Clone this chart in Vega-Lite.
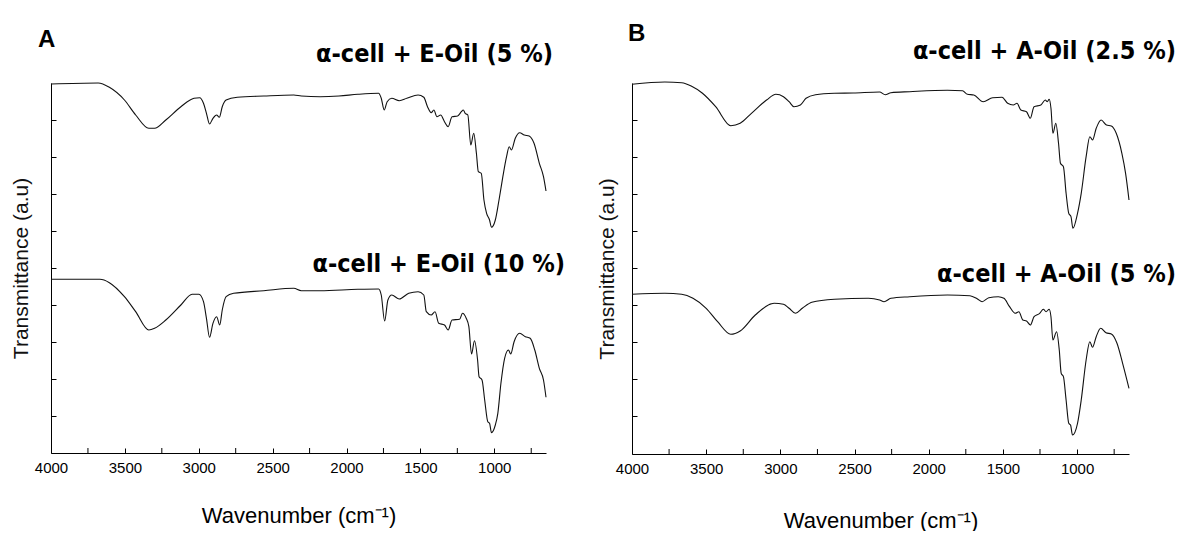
{
  "$schema": "https://vega.github.io/schema/vega-lite/v6.json",
  "padding": {"left": 10, "top": 22, "right": 0, "bottom": 0},
  "background": "white",
  "bounds": "flush",
  "spacing": 86,
  "config": {
    "view": {"stroke": null},
    "font": "Liberation Sans",
    "axis": {"grid": false, "domainColor": "#000", "tickColor": "#000", "domainWidth": 1, "tickWidth": 1}
  },
  "datasets": {
    "A": [
      {"s":"E5","w":4000,"v":369},{"s":"E5","w":3681,"v":370},{"s":"E5","w":3605,"v":365.7},{"s":"E5","w":3503,"v":353},{"s":"E5","w":3427,"v":338},{"s":"E5","w":3338,"v":324.7},{"s":"E5","w":3299,"v":324.7},{"s":"E5","w":3223,"v":333},{"s":"E5","w":3121,"v":346.3},{"s":"E5","w":3032,"v":354.7},{"s":"E5","w":2994,"v":355.3},{"s":"E5","w":2968,"v":349.7},{"s":"E5","w":2948,"v":339.7},{"s":"E5","w":2927,"v":329},{"s":"E5","w":2904,"v":334.7},{"s":"E5","w":2879,"v":338},{"s":"E5","w":2861,"v":335.7},{"s":"E5","w":2841,"v":346.3},{"s":"E5","w":2815,"v":353},{"s":"E5","w":2739,"v":355.7},{"s":"E5","w":2560,"v":357},{"s":"E5","w":2357,"v":358},{"s":"E5","w":2306,"v":357},{"s":"E5","w":2178,"v":356.3},{"s":"E5","w":2051,"v":357},{"s":"E5","w":1923,"v":358.7},{"s":"E5","w":1783,"v":359.7},{"s":"E5","w":1765,"v":354.7},{"s":"E5","w":1745,"v":343},{"s":"E5","w":1725,"v":351.3},{"s":"E5","w":1694,"v":354.7},{"s":"E5","w":1643,"v":352.3},{"s":"E5","w":1592,"v":354.7},{"s":"E5","w":1516,"v":358},{"s":"E5","w":1477,"v":355.7},{"s":"E5","w":1452,"v":346.3},{"s":"E5","w":1427,"v":340.3},{"s":"E5","w":1409,"v":343},{"s":"E5","w":1388,"v":336.3},{"s":"E5","w":1363,"v":338},{"s":"E5","w":1337,"v":331.3},{"s":"E5","w":1312,"v":326.3},{"s":"E5","w":1286,"v":336.3},{"s":"E5","w":1248,"v":337},{"s":"E5","w":1223,"v":341.3},{"s":"E5","w":1210,"v":343},{"s":"E5","w":1197,"v":339.7},{"s":"E5","w":1179,"v":338},{"s":"E5","w":1159,"v":308},{"s":"E5","w":1139,"v":319.7},{"s":"E5","w":1121,"v":299.7},{"s":"E5","w":1108,"v":281.3},{"s":"E5","w":1088,"v":279.7},{"s":"E5","w":1070,"v":253},{"s":"E5","w":1052,"v":239.7},{"s":"E5","w":1032,"v":233},{"s":"E5","w":1019,"v":225.7},{"s":"E5","w":993,"v":233},{"s":"E5","w":968,"v":253},{"s":"E5","w":942,"v":276.3},{"s":"E5","w":917,"v":296.3},{"s":"E5","w":899,"v":306.3},{"s":"E5","w":884,"v":303},{"s":"E5","w":858,"v":314.7},{"s":"E5","w":828,"v":320.3},{"s":"E5","w":797,"v":318},{"s":"E5","w":764,"v":317},{"s":"E5","w":731,"v":309.7},{"s":"E5","w":695,"v":289.7},{"s":"E5","w":667,"v":276.3},{"s":"E5","w":650,"v":262},
      {"s":"E10","w":4000,"v":173.7},{"s":"E10","w":3669,"v":173.7},{"s":"E10","w":3605,"v":170.3},{"s":"E10","w":3503,"v":156.3},{"s":"E10","w":3427,"v":141.3},{"s":"E10","w":3338,"v":123},{"s":"E10","w":3299,"v":124.7},{"s":"E10","w":3223,"v":133},{"s":"E10","w":3121,"v":148},{"s":"E10","w":3045,"v":158.7},{"s":"E10","w":2999,"v":158.7},{"s":"E10","w":2968,"v":151.3},{"s":"E10","w":2948,"v":134.7},{"s":"E10","w":2927,"v":115.7},{"s":"E10","w":2904,"v":129.7},{"s":"E10","w":2879,"v":136.3},{"s":"E10","w":2858,"v":128},{"s":"E10","w":2841,"v":143},{"s":"E10","w":2815,"v":156.3},{"s":"E10","w":2764,"v":159.7},{"s":"E10","w":2560,"v":162.3},{"s":"E10","w":2357,"v":164.7},{"s":"E10","w":2306,"v":162.3},{"s":"E10","w":2178,"v":162.3},{"s":"E10","w":1923,"v":163.7},{"s":"E10","w":1783,"v":164},{"s":"E10","w":1765,"v":158},{"s":"E10","w":1742,"v":132},{"s":"E10","w":1720,"v":153},{"s":"E10","w":1694,"v":158},{"s":"E10","w":1643,"v":154},{"s":"E10","w":1579,"v":159.7},{"s":"E10","w":1516,"v":161.3},{"s":"E10","w":1477,"v":158},{"s":"E10","w":1460,"v":141.3},{"s":"E10","w":1427,"v":138},{"s":"E10","w":1401,"v":141.3},{"s":"E10","w":1376,"v":129.7},{"s":"E10","w":1337,"v":128},{"s":"E10","w":1312,"v":123},{"s":"E10","w":1286,"v":133},{"s":"E10","w":1235,"v":133.7},{"s":"E10","w":1215,"v":139.7},{"s":"E10","w":1190,"v":134.7},{"s":"E10","w":1172,"v":126.3},{"s":"E10","w":1154,"v":99},{"s":"E10","w":1134,"v":112.3},{"s":"E10","w":1113,"v":93},{"s":"E10","w":1103,"v":76.3},{"s":"E10","w":1083,"v":73},{"s":"E10","w":1065,"v":53},{"s":"E10","w":1044,"v":31.3},{"s":"E10","w":1032,"v":29.7},{"s":"E10","w":1019,"v":20.3},{"s":"E10","w":993,"v":28},{"s":"E10","w":976,"v":39.7},{"s":"E10","w":955,"v":69.7},{"s":"E10","w":930,"v":94.7},{"s":"E10","w":904,"v":103},{"s":"E10","w":889,"v":99},{"s":"E10","w":866,"v":111.3},{"s":"E10","w":828,"v":119.7},{"s":"E10","w":790,"v":116.3},{"s":"E10","w":757,"v":114.7},{"s":"E10","w":726,"v":103},{"s":"E10","w":695,"v":84.7},{"s":"E10","w":667,"v":73},{"s":"E10","w":650,"v":55.7}
    ],
    "B": [
      {"s":"A25","w":4000,"v":369.7},{"s":"A25","w":3779,"v":372},{"s":"A25","w":3665,"v":371.3},{"s":"A25","w":3601,"v":368},{"s":"A25","w":3525,"v":360.7},{"s":"A25","w":3436,"v":347.3},{"s":"A25","w":3334,"v":328.3},{"s":"A25","w":3271,"v":330.7},{"s":"A25","w":3195,"v":340.7},{"s":"A25","w":3093,"v":354},{"s":"A25","w":3030,"v":359.7},{"s":"A25","w":2979,"v":357.3},{"s":"A25","w":2941,"v":352.3},{"s":"A25","w":2908,"v":347.3},{"s":"A25","w":2865,"v":349},{"s":"A25","w":2827,"v":355.7},{"s":"A25","w":2763,"v":359.3},{"s":"A25","w":2636,"v":360.7},{"s":"A25","w":2509,"v":361},{"s":"A25","w":2331,"v":362},{"s":"A25","w":2293,"v":359.3},{"s":"A25","w":2255,"v":361.3},{"s":"A25","w":2128,"v":362.3},{"s":"A25","w":1874,"v":363.7},{"s":"A25","w":1772,"v":363.3},{"s":"A25","w":1739,"v":359.7},{"s":"A25","w":1696,"v":359},{"s":"A25","w":1633,"v":352.3},{"s":"A25","w":1569,"v":356.3},{"s":"A25","w":1506,"v":356.7},{"s":"A25","w":1468,"v":350.7},{"s":"A25","w":1430,"v":349},{"s":"A25","w":1405,"v":350.7},{"s":"A25","w":1379,"v":344},{"s":"A25","w":1341,"v":342.3},{"s":"A25","w":1315,"v":335.7},{"s":"A25","w":1290,"v":347.3},{"s":"A25","w":1244,"v":349},{"s":"A25","w":1214,"v":354},{"s":"A25","w":1201,"v":352.3},{"s":"A25","w":1188,"v":354.7},{"s":"A25","w":1176,"v":345.7},{"s":"A25","w":1163,"v":320.7},{"s":"A25","w":1143,"v":330.7},{"s":"A25","w":1125,"v":310.7},{"s":"A25","w":1112,"v":290.7},{"s":"A25","w":1092,"v":287.3},{"s":"A25","w":1074,"v":260.7},{"s":"A25","w":1056,"v":240.7},{"s":"A25","w":1041,"v":237.3},{"s":"A25","w":1028,"v":225.7},{"s":"A25","w":997,"v":240.7},{"s":"A25","w":972,"v":260.7},{"s":"A25","w":939,"v":297.3},{"s":"A25","w":914,"v":317.3},{"s":"A25","w":896,"v":314},{"s":"A25","w":871,"v":325.7},{"s":"A25","w":838,"v":334},{"s":"A25","w":802,"v":329},{"s":"A25","w":769,"v":328},{"s":"A25","w":736,"v":320.7},{"s":"A25","w":698,"v":300.7},{"s":"A25","w":673,"v":280.7},{"s":"A25","w":650,"v":254},
      {"s":"A5","w":4000,"v":159.7},{"s":"A5","w":3779,"v":160.7},{"s":"A5","w":3665,"v":159.7},{"s":"A5","w":3589,"v":155.7},{"s":"A5","w":3500,"v":145.7},{"s":"A5","w":3423,"v":132.3},{"s":"A5","w":3334,"v":119.7},{"s":"A5","w":3271,"v":123},{"s":"A5","w":3169,"v":139},{"s":"A5","w":3042,"v":150.7},{"s":"A5","w":2979,"v":149.7},{"s":"A5","w":2941,"v":145.7},{"s":"A5","w":2898,"v":140.7},{"s":"A5","w":2852,"v":145.7},{"s":"A5","w":2788,"v":151.7},{"s":"A5","w":2636,"v":154.7},{"s":"A5","w":2407,"v":155.7},{"s":"A5","w":2331,"v":154},{"s":"A5","w":2301,"v":152.3},{"s":"A5","w":2255,"v":155.7},{"s":"A5","w":2128,"v":157.3},{"s":"A5","w":1874,"v":159},{"s":"A5","w":1722,"v":158.3},{"s":"A5","w":1671,"v":155},{"s":"A5","w":1640,"v":152.3},{"s":"A5","w":1595,"v":156.3},{"s":"A5","w":1531,"v":157.3},{"s":"A5","w":1493,"v":155.7},{"s":"A5","w":1455,"v":147.3},{"s":"A5","w":1417,"v":140.7},{"s":"A5","w":1392,"v":142.3},{"s":"A5","w":1366,"v":134},{"s":"A5","w":1341,"v":133},{"s":"A5","w":1315,"v":129},{"s":"A5","w":1290,"v":137.3},{"s":"A5","w":1252,"v":140.7},{"s":"A5","w":1227,"v":144.7},{"s":"A5","w":1209,"v":142.3},{"s":"A5","w":1188,"v":144.7},{"s":"A5","w":1176,"v":137.3},{"s":"A5","w":1163,"v":114},{"s":"A5","w":1138,"v":122.3},{"s":"A5","w":1120,"v":104},{"s":"A5","w":1107,"v":80.7},{"s":"A5","w":1092,"v":77.3},{"s":"A5","w":1074,"v":54},{"s":"A5","w":1056,"v":30.7},{"s":"A5","w":1044,"v":29},{"s":"A5","w":1031,"v":19},{"s":"A5","w":997,"v":30.7},{"s":"A5","w":972,"v":54},{"s":"A5","w":939,"v":94},{"s":"A5","w":914,"v":112.3},{"s":"A5","w":896,"v":106.7},{"s":"A5","w":871,"v":117.3},{"s":"A5","w":841,"v":125.7},{"s":"A5","w":805,"v":121.3},{"s":"A5","w":769,"v":120},{"s":"A5","w":731,"v":110.7},{"s":"A5","w":693,"v":90.7},{"s":"A5","w":650,"v":65.7}
    ],
    "minor": [{"w":3750},{"w":3250},{"w":2750},{"w":2250},{"w":1750},{"w":1250},{"w":750}],
    "panelA": [{"t":"A","w":4088,"v":406}],
    "labelsA": [{"t":"α-cell + E-Oil (5 %)","w":603,"v":391},{"t":"α-cell + E-Oil (10 %)","w":521,"v":181}],
    "panelB": [{"t":"B","w":4027,"v":413}],
    "labelsB": [{"t":"α-cell + A-Oil (2.5 %)","w":333,"v":395},{"t":"α-cell + A-Oil (5 %)","w":333,"v":172}]
  },
  "hconcat": [
    {
      "width": 495,
      "height": 370,
      "layer": [
        {
          "data": {"name": "A"},
          "mark": {"type": "line", "color": "#111", "strokeWidth": 1.1, "interpolate": "monotone"},
          "encoding": {
            "x": {"field": "w", "type": "quantitative",
              "scale": {"domain": [650, 4000], "reverse": true, "nice": false, "zero": false},
              "axis": {"values": [4000,3500,3000,2500,2000,1500,1000],
                "format": "d", "tickSize": -5, "labelPadding": 12, "labelFontSize": 15, "labelColor": "#000", "labelFlush": false, "labelOverlap": false,
                "title": "Wavenumber (cm⁻¹)", "titleFontSize": 22, "titleFontWeight": "normal", "titleColor": "#000", "titlePadding": 30}},
            "y": {"field": "v", "type": "quantitative",
              "scale": {"domain": [0, 370], "nice": false, "zero": false},
              "axis": {"values": [37,74,111,148,185,222,259,296,333], "labels": false, "tickSize": -5,
                "title": "Transmittance (a.u)", "titleFontSize": 21, "titleFontWeight": "normal", "titleColor": "#111", "titlePadding": 19}},
            "detail": {"field": "s"}
          }
        },
        {
          "data": {"name": "minor"},
          "mark": {"type": "rule", "color": "#000", "strokeWidth": 1},
          "encoding": {
            "x": {"field": "w", "type": "quantitative"},
            "y": {"datum": 0},
            "y2": {"datum": 5}
          }
        },
        {
          "data": {"name": "panelA"},
          "mark": {"type": "text", "align": "left", "baseline": "alphabetic", "fontSize": 24, "fontWeight": "bold", "font": "Liberation Sans", "color": "#000"},
          "encoding": {
            "x": {"field": "w", "type": "quantitative"},
            "y": {"field": "v", "type": "quantitative"},
            "text": {"field": "t"}
          }
        },
        {
          "data": {"name": "labelsA"},
          "mark": {"type": "text", "align": "right", "baseline": "alphabetic", "fontSize": 25, "fontWeight": "bold", "font": "DejaVu Sans Condensed, DejaVu Sans", "color": "#000"},
          "encoding": {
            "x": {"field": "w", "type": "quantitative"},
            "y": {"field": "v", "type": "quantitative"},
            "text": {"field": "t"}
          }
        }
      ]
    },
    {
      "width": 497,
      "height": 371,
      "layer": [
        {
          "data": {"name": "B"},
          "mark": {"type": "line", "color": "#111", "strokeWidth": 1.1, "interpolate": "monotone"},
          "encoding": {
            "x": {"field": "w", "type": "quantitative",
              "scale": {"domain": [650, 4000], "reverse": true, "nice": false, "zero": false},
              "axis": {"values": [4000,3500,3000,2500,2000,1500,1000],
                "format": "d", "tickSize": -5, "labelPadding": 12, "labelFontSize": 15, "labelColor": "#000", "labelFlush": false, "labelOverlap": false,
                "title": "Wavenumber (cm⁻¹)", "titleFontSize": 22, "titleFontWeight": "normal", "titleColor": "#000", "titlePadding": 34}},
            "y": {"field": "v", "type": "quantitative",
              "scale": {"domain": [0, 371], "nice": false, "zero": false},
              "axis": {"values": [38,75,112,149,186,223,260,297,334], "labels": false, "tickSize": -5,
                "title": "Transmittance (a.u)", "titleFontSize": 21, "titleFontWeight": "normal", "titleColor": "#111", "titlePadding": 14}},
            "detail": {"field": "s"}
          }
        },
        {
          "data": {"name": "minor"},
          "mark": {"type": "rule", "color": "#000", "strokeWidth": 1},
          "encoding": {
            "x": {"field": "w", "type": "quantitative"},
            "y": {"datum": 0},
            "y2": {"datum": 5}
          }
        },
        {
          "data": {"name": "panelB"},
          "mark": {"type": "text", "align": "left", "baseline": "alphabetic", "fontSize": 24, "fontWeight": "bold", "font": "Liberation Sans", "color": "#000"},
          "encoding": {
            "x": {"field": "w", "type": "quantitative"},
            "y": {"field": "v", "type": "quantitative"},
            "text": {"field": "t"}
          }
        },
        {
          "data": {"name": "labelsB"},
          "mark": {"type": "text", "align": "right", "baseline": "alphabetic", "fontSize": 25, "fontWeight": "bold", "font": "DejaVu Sans Condensed, DejaVu Sans", "color": "#000"},
          "encoding": {
            "x": {"field": "w", "type": "quantitative"},
            "y": {"field": "v", "type": "quantitative"},
            "text": {"field": "t"}
          }
        }
      ]
    }
  ]
}
